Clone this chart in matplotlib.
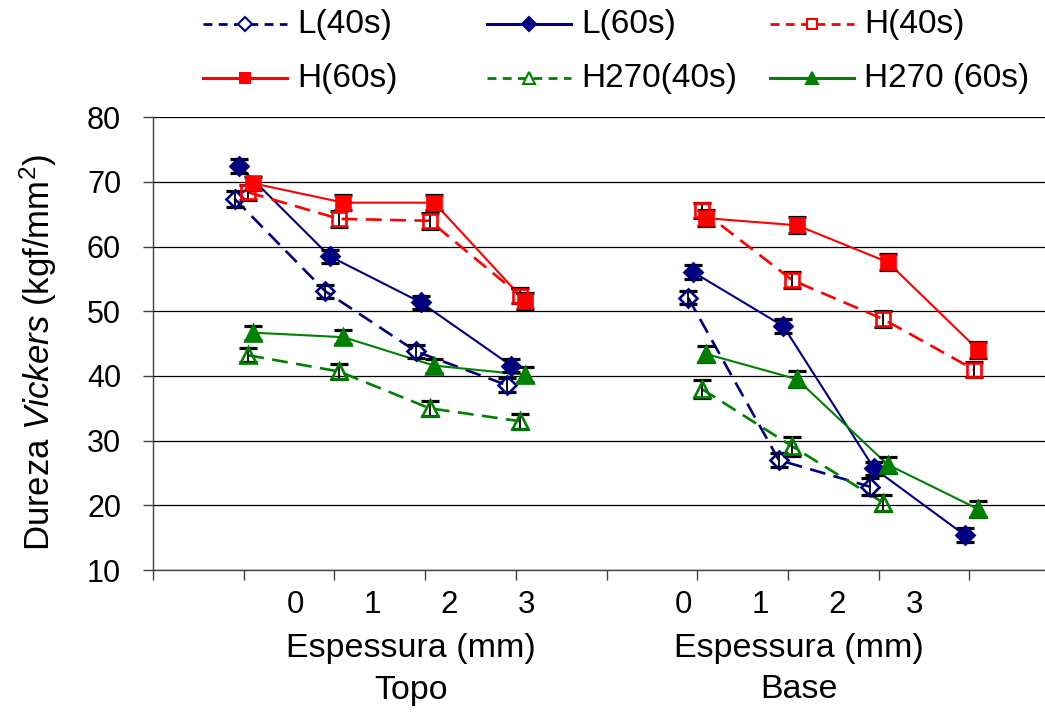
import numpy as np
import matplotlib
matplotlib.use("Agg")
import matplotlib.pyplot as plt
from matplotlib.lines import Line2D

plt.rcParams['font.family'] = ['Liberation Sans', 'DejaVu Sans']
plt.rcParams['mathtext.fontset'] = 'custom'
plt.rcParams['mathtext.rm'] = 'Liberation Sans'
plt.rcParams['mathtext.it'] = 'Liberation Sans:italic'

# ---------------- data ----------------
thickness_labels = ["0", "1", "2", "3"]
groups = ["Topo", "Base"]
group_x = {"Topo": [1, 2, 3, 4], "Base": [6, 7, 8, 9]}

series_names = ["L(40s)", "L(60s)", "H(40s)", "H(60s)", "H270(40s)", "H270 (60s)"]

L40_topo = [67.4, 53.1, 43.8, 38.6]
L40_base = [52.1, 27.0, 22.9, np.nan]
L60_topo = [72.5, 58.5, 51.4, 41.6]
L60_base = [56.1, 47.7, 25.7, 15.4]
H40_topo = [68.4, 64.3, 64.0, 52.4]
H40_base = [65.6, 54.8, 48.8, 41.0]
H60_topo = [69.8, 66.8, 66.8, 51.6]
H60_base = [64.4, 63.3, 57.6, 44.0]
H270_40_topo = [43.2, 40.7, 35.0, 33.0]
H270_40_base = [38.0, 29.1, 20.4, np.nan]
H270_60_topo = [46.7, 46.0, 41.6, 40.2]
H270_60_base = [43.4, 39.5, 26.3, 19.4]

L40_topo_err = [1.2, 1.0, 1.0, 1.05]
L40_base_err = [1.0, 1.1, 1.3, np.nan]
L60_topo_err = [1.1, 1.05, 1.0, 1.0]
L60_base_err = [1.05, 1.05, 1.05, 1.05]
H40_topo_err = [1.15, 1.2, 1.2, 1.15]
H40_base_err = [1.2, 1.25, 1.25, 1.2]
H60_topo_err = [1.0, 1.2, 1.2, 1.25]
H60_base_err = [1.25, 1.25, 1.25, 1.25]
H270_40_topo_err = [1.1, 1.2, 1.2, 1.15]
H270_40_base_err = [1.35, 1.4, 1.2, np.nan]
H270_60_topo_err = [1.1, 1.1, 1.1, 1.2]
H270_60_base_err = [1.3, 1.2, 1.25, 1.2]

y_ticks = [10, 20, 30, 40, 50, 60, 70, 80]

# ---------------- styles ----------------
NAVY = '#000080'
RED = '#FF0000'
GREEN = '#008000'

styles = {
    "L(40s)":     dict(color=NAVY, ls='--', marker='D', filled=False, off=-0.10, ms=9),
    "L(60s)":     dict(color=NAVY, ls='-',  marker='D', filled=True,  off=-0.05, ms=9),
    "H(40s)":     dict(color=RED,  ls='--', marker='s', filled=False, off=0.05, ms=10.5),
    "H(60s)":     dict(color=RED,  ls='-',  marker='s', filled=True,  off=0.10, ms=10.5),
    "H270(40s)":  dict(color=GREEN, ls='--', marker='^', filled=False, off=0.05, ms=11.5),
    "H270 (60s)": dict(color=GREEN, ls='-',  marker='^', filled=True,  off=0.10, ms=11.5),
}

data = {
    "L(40s)":     (L40_topo, L40_base, L40_topo_err, L40_base_err),
    "L(60s)":     (L60_topo, L60_base, L60_topo_err, L60_base_err),
    "H(40s)":     (H40_topo, H40_base, H40_topo_err, H40_base_err),
    "H(60s)":     (H60_topo, H60_base, H60_topo_err, H60_base_err),
    "H270(40s)":  (H270_40_topo, H270_40_base, H270_40_topo_err, H270_40_base_err),
    "H270 (60s)": (H270_60_topo, H270_60_base, H270_60_topo_err, H270_60_base_err),
}

W, H = 1045, 715
fig = plt.figure(figsize=(W / 100, H / 100), dpi=100)
ax_left, ax_right, ax_top, ax_bot = 153, 1045, 117.3, 570
ax = fig.add_axes([ax_left / W, 1 - ax_bot / H, (ax_right - ax_left) / W, (ax_bot - ax_top) / H])
px_per_cat = 90.7
ax.set_xlim(0, (ax_right - ax_left) / px_per_cat)
ax.set_ylim(10, 80)

dash_pattern = (6.0, 3.2)

for name in series_names:
    st = styles[name]
    topo, base, etopo, ebase = data[name]
    for gx, vals, errs in ((group_x["Topo"], topo, etopo), (group_x["Base"], base, ebase)):
        xs = np.array(gx, dtype=float) + st['off']
        vs = np.array(vals, dtype=float)
        es = np.array(errs, dtype=float)
        m = ~np.isnan(vs)
        ax.errorbar(xs[m], vs[m], yerr=es[m], fmt='none', ecolor='black',
                    elinewidth=1.3, capsize=6.5, capthick=2.3, zorder=3)
        lw = 1.9 if st['ls'] == '--' else 1.5
        line, = ax.plot(xs[m], vs[m], color=st['color'], lw=lw, zorder=2)
        if st['ls'] == '--':
            line.set_dashes(dash_pattern)
        ax.plot(xs[m], vs[m], ls='none', marker=st['marker'], ms=st['ms'],
                mfc=st['color'] if st['filled'] else 'none',
                mec=st['color'], mew=1.9, zorder=4)

# axes styling
ax.set_yticks(y_ticks)
ax.set_yticklabels([str(t) for t in y_ticks], fontsize=22)
ax.set_xticks(np.arange(0, 10))
ax.set_xticklabels([])
ax.tick_params(axis='y', direction='out', length=7, width=1, pad=16, color='#404040')
ax.tick_params(axis='x', direction='out', length=7, width=1, color='#404040')
ax.grid(axis='y', color='black', lw=0.9)
ax.set_axisbelow(True)
for s in ['top', 'right']:
    ax.spines[s].set_visible(False)
ax.spines['left'].set_color('#404040')
ax.spines['bottom'].set_color('#404040')
ax.spines['left'].set_linewidth(1)
ax.spines['bottom'].set_linewidth(1)

# x-axis text blocks
centers = {"Topo": 411, "Base": 799}
lab_spacing = 77
for g in groups:
    c = centers[g]
    for i, lab in enumerate(thickness_labels):
        x = c + (i - 1.5) * lab_spacing
        fig.text(x / W, 1 - 605 / H, lab, ha='center', va='center', fontsize=22.5)
    fig.text(c / W, 1 - 648 / H, "Espessura (mm)", ha='center', va='center', fontsize=24.5)
    fig.text(c / W, 1 - 690 / H, g, ha='center', va='center', fontsize=24.5)

# y label
fig.text(38 / W, 1 - 352 / H, 'Dureza $\\mathit{Vickers}$ (kgf/mm$^2$)', rotation=90,
         ha='center', va='center', fontsize=25)

# manual legend (equal width columns)
col_x = [203, 487, 770]
row_y = [24, 78]
handle_len = 84
for idx, name in enumerate(series_names):
    st = styles[name]
    r, c = divmod(idx, 3)
    x0 = col_x[c]
    y0 = 1 - row_y[r] / H
    ln = Line2D([x0 / W, (x0 + handle_len) / W], [y0, y0], transform=fig.transFigure,
                color=st['color'], lw=2.0 if st['ls'] == '--' else 2.2)
    if st['ls'] == '--':
        ln.set_dashes((3.2, 2.3))
    fig.add_artist(ln)
    mk = Line2D([(x0 + handle_len / 2) / W], [y0], transform=fig.transFigure, ls='none',
                marker=st['marker'], ms=st['ms'] * 0.75,
                mfc=st['color'] if st['filled'] else 'white', mec=st['color'], mew=1.5)
    fig.add_artist(mk)
    fig.text((x0 + handle_len + 10) / W, y0, name, ha='left', va='center', fontsize=24)

fig.savefig('out.png', dpi=100)
